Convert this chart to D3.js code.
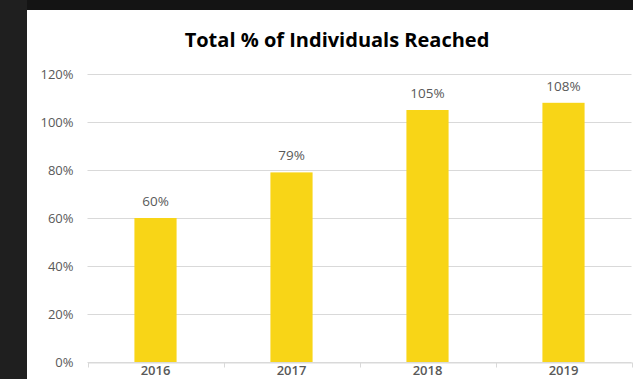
<!DOCTYPE html>
<html>
<head>
<meta charset="utf-8">
<script src="https://cdn.jsdelivr.net/npm/d3@7"></script>
<style>
  html, body { margin: 0; padding: 0; background: #fff; overflow: hidden; }
  text { font-family: "Open Sans", "Liberation Sans", sans-serif; }
</style>
</head>
<body>
<script>
// data
const years = ['2016', '2017', '2018', '2019']
const reached = [60, 79, 105, 108]
const yTicks = [0, 20, 40, 60, 80, 100, 120]

const W = 633, H = 379
const MARGIN = {top: 74, bottom: 17, left: 87.5, right: 1.5}

const SVG = d3.select('body').append('svg')
  .attr('width', W)
  .attr('height', H)

// dark frame round the slide
SVG.append('rect').attr('x', 0).attr('y', 0).attr('width', W).attr('height', 10).attr('fill', '#141414')
SVG.append('rect').attr('x', 0).attr('y', 0).attr('width', 27).attr('height', H).attr('fill', '#1f1f1f')

const x = d3.scaleBand()
  .domain(years)
  .range([MARGIN.left, W - MARGIN.right])
  .paddingInner(0.69)
  .paddingOuter(0.345)

const y = d3.scaleLinear()
  .domain([0, 120])
  .range([H - MARGIN.bottom, MARGIN.top])

// gridlines
SVG.append('g')
  .selectAll('line')
  .data(yTicks)
  .join('line')
    .attr('x1', MARGIN.left)
    .attr('x2', W - MARGIN.right)
    .attr('y1', d => Math.round(y(d)) + 0.5)
    .attr('y2', d => Math.round(y(d)) + 0.5)
    .attr('stroke', '#d9d9d9')
    .attr('stroke-width', 1)

// y axis labels
SVG.append('g')
  .attr('transform', `translate(${MARGIN.left}, 0)`)
  .call(d3.axisLeft(y).tickValues(yTicks).tickSize(0).tickPadding(14).tickFormat(d => d + '%'))
  .call(g => g.select('.domain').remove())
  .selectAll('text')
    .style('font-size', '13px')
    .attr('fill', '#595959')

// bars
SVG.append('g')
  .selectAll('rect')
  .data(reached)
  .join('rect')
    .attr('x', (d, i) => x(years[i]))
    .attr('y', d => y(d))
    .attr('width', x.bandwidth())
    .attr('height', d => y(0) - y(d))
    .attr('fill', '#f8d517')

// x axis
const xAxis = d3.axisBottom(x).tickSize(0).tickPadding(3)
const gx = SVG.append('g')
  .attr('transform', `translate(0, ${Math.round(y(0)) + 0.5})`)
  .call(xAxis)
gx.select('.domain').attr('stroke', '#d9d9d9')
gx.selectAll('text')
  .style('font-size', '13px')
  .style('font-weight', '600')
  .attr('fill', '#595959')

// tick marks between categories
const step = x.step()
gx.append('g')
  .selectAll('line')
  .data(d3.range(5))
  .join('line')
    .attr('x1', i => Math.round(MARGIN.left + i * step) + 0.5)
    .attr('x2', i => Math.round(MARGIN.left + i * step) + 0.5)
    .attr('y1', 0)
    .attr('y2', 5)
    .attr('stroke', '#d9d9d9')

// value labels
SVG.append('g')
  .selectAll('text')
  .data(reached)
  .join('text')
    .attr('x', (d, i) => x(years[i]) + x.bandwidth() / 2)
    .attr('y', d => y(d) - 12)
    .attr('text-anchor', 'middle')
    .style('font-size', '13.5px')
    .attr('fill', '#595959')
    .text(d => d + '%')

// title
SVG.append('text')
  .attr('x', 337)
  .attr('y', 47)
  .attr('text-anchor', 'middle')
  .style('font-size', '20px')
  .style('font-weight', '700')
  .attr('fill', '#000')
  .text('Total % of Individuals Reached')
</script>
</body>
</html>
